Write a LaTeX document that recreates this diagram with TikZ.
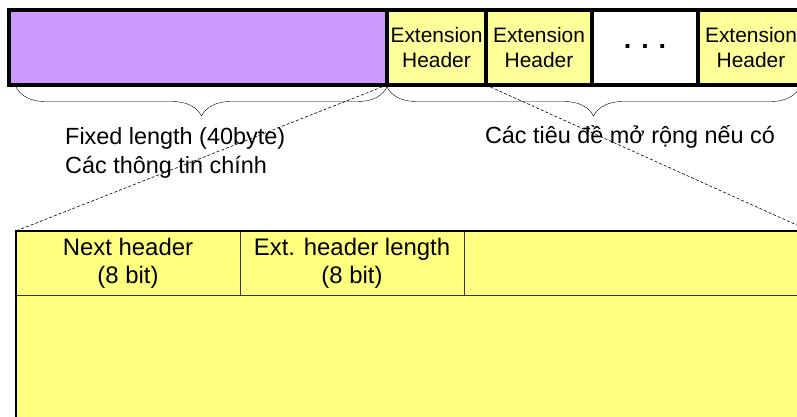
\documentclass[tikz,border=0pt]{standalone}
\usepackage{fontspec}
\setmainfont{Liberation Sans}
\usetikzlibrary{decorations.pathreplacing,positioning}
\definecolor{hdrpurple}{HTML}{CC99FF}
\definecolor{extyellow}{HTML}{FFFF99}
\definecolor{fieldyellow}{HTML}{FFFF80}

\begin{document}
\begin{tikzpicture}[x=1bp,y=1bp,% one unit = one pixel of the reference
        topbox/.style={draw,line width=3.5bp,minimum height=75bp,inner sep=0pt,outer sep=0pt,
                align=center,font=\fontsize{21}{26}\selectfont},
        extbox/.style={topbox,fill=extyellow,minimum width=#1},
        fieldbox/.style={draw=black!80,line width=0.8bp,fill=fieldyellow,inner sep=0pt,outer sep=0pt,
                align=center,font=\fontsize{24}{28}\selectfont},
        bracelbl/.style={inner sep=0pt,align=left,font=\fontsize{23.5}{29}\selectfont},
        zoomline/.style={dash pattern=on 3bp off 2bp,line width=0.6bp}]
\useasboundingbox (0,0) rectangle (797,-416);
\clip (0,0) rectangle (797,-416);

% packet: fixed header followed by the extension headers
\node[topbox,fill=hdrpurple,minimum width=378bp] (fixed) at (198,-47.5) {};
\node[extbox=99bp,right=0pt of fixed] (ext1) {Extension\\Header};
\node[extbox=106bp,right=0pt of ext1] (ext2) {Extension\\Header};
\node[topbox,fill=white,minimum width=106bp,right=0pt of ext2,
        font=\fontsize{27}{26}\selectfont] (dots) {\raisebox{3bp}{\textbf{. . .}}};
\node[extbox=106bp,right=0pt of dots] (extn) {Extension\\Header}; % runs off the right edge

% braces under the packet
\draw[decorate,decoration={brace,amplitude=29bp}] ([yshift=-2bp]fixed.south east) -- ([xshift=7bp,yshift=-2bp]fixed.south west);
\draw[decorate,decoration={brace,amplitude=29bp}] ([xshift=-4bp,yshift=-2bp]extn.south east) -- ([yshift=-2bp]ext1.south west);
\node[bracelbl,anchor=north west] (fixedlbl) at (65,-127.5) {Fixed length (40byte)\\Các thông tin chính};
\node[bracelbl,anchor=base] (extlbl) at (630,-143) {Các tiêu đề mở rộng nếu có};

% format of one extension header
\node[fieldbox,minimum width=224bp,minimum height=64bp,anchor=north west] (nexthdr) at (16,-231) {Next header\\(8 bit)};
\node[fieldbox,minimum width=224bp,minimum height=64bp,right=0pt of nexthdr] (extlen) {Ext. header length\\(8 bit)};
\node[fieldbox,minimum width=346bp,minimum height=64bp,right=0pt of extlen] (rest) {};
\node[fieldbox,minimum width=794bp,minimum height=140bp,anchor=north west] (body) at (nexthdr.south west) {};
\draw[line width=2.5bp] (body.south west) -- (nexthdr.north west) -- (rest.north east);

% zoom lines
\draw[zoomline] (fixed.south east) -- (nexthdr.north west);
\draw[zoomline] (ext2.south west) -- (rest.north east);
\end{tikzpicture}
\end{document}
